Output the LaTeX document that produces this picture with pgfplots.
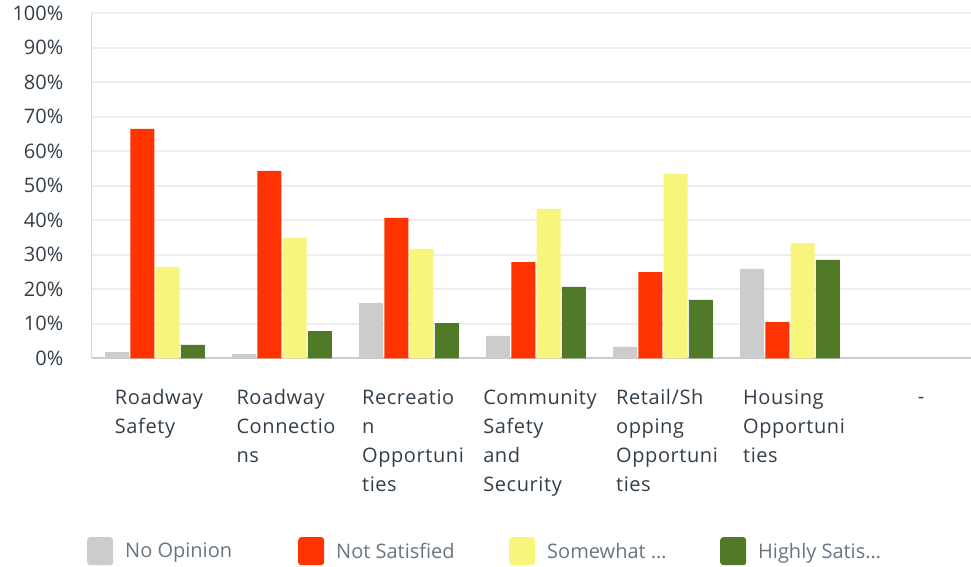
\documentclass[border=0pt]{standalone}
\usepackage{fontspec}
\setmainfont{Open Sans}
\newfontfamily\wide[LetterSpace=3]{Open Sans}
\usepackage{pgfplots}
\pgfplotsset{compat=1.18}

\definecolor{noop}{HTML}{CCCCCC}
\definecolor{notsat}{HTML}{FF3300}
\definecolor{somewhat}{HTML}{F7F57C}
\definecolor{highly}{HTML}{507A28}
\definecolor{gridc}{HTML}{EEEEEE}
\definecolor{labc}{HTML}{333E48}
\definecolor{legc}{HTML}{6A7580}

\begin{document}
\begin{tikzpicture}
  \begin{axis}[
    at={(91.5bp,208.7bp)}, anchor=south west,
    scale only axis,
    width=879.5bp, height=345bp,
    xmin=-0.5, xmax=6.425,
    ymin=0, ymax=100,
    ybar=1.3bp, bar width=24bp,
    axis x line=bottom, axis y line=left,
    x axis line style={draw=noop, line width=2bp, -},
    y axis line style={draw=gridc!80!gray, line width=1bp, -},
    major tick length=0pt,
    ymajorgrids,
    major grid style={draw=gridc, line width=2bp},
    ytick={0,10,...,100},
    yticklabels={0\%,10\%,20\%,30\%,40\%,50\%,60\%,70\%,80\%,90\%,100\%},
    yticklabel style={anchor=east, inner sep=0pt, xshift=-28bp, text=labc,
      font=\fontsize{20bp}{24bp}\selectfont},
    xtick={0,...,6},
    xticklabels={{Roadway\\Safety},{Roadway\\Connectio\\ns},{Recreatio\\n\\Opportuni\\ties},
      {Community\\Safety\\and\\Security},{Retail/Sh\\opping\\Opportuni\\ties},
      {Housing\\Opportuni\\ties},{\vphantom{R}-}},
    xticklabel style={anchor=north, align=left, inner sep=0pt, yshift=-31bp, xshift=4bp,
      text=labc, font=\wide\fontsize{20bp}{29bp}\selectfont},
    every axis plot post/.append style={
      legend image code/.code={
        \path[##1, draw=none, rounded corners=3bp] (0bp,-14bp) rectangle (26bp,14bp);
        \path (38bp,0bp);}},
    legend columns=4,
    legend style={at={(0,0)}, anchor=north west, xshift=-4.5bp, yshift=-178.7bp,
      draw=none, fill=none, inner sep=0pt, text=legc,
      font=\fontsize{20bp}{24bp}\selectfont,
      nodes={inner sep=0pt},
      cells={anchor=west},
      /tikz/every even column/.append style={column sep=0bp}},
  ]
    \addplot[fill=noop, draw=none] coordinates {
      (0,1.8) (1,1.2) (2,16.0) (3,6.5) (4,3.3) (5,25.9)};
    \addlegendentry{\makebox[173bp][l]{No Opinion}}
    \addplot[fill=notsat, draw=none] coordinates {
      (0,66.5) (1,54.3) (2,40.7) (3,27.9) (4,25.0) (5,10.5)};
    \addlegendentry{\makebox[173bp][l]{Not Satisfied}}
    \addplot[fill=somewhat, draw=none] coordinates {
      (0,26.5) (1,34.9) (2,31.7) (3,43.3) (4,53.4) (5,33.4)};
    \addlegendentry{\makebox[173bp][l]{Somewhat \dots}}
    \addplot[fill=highly, draw=none] coordinates {
      (0,3.9) (1,7.9) (2,10.2) (3,20.7) (4,16.9) (5,28.5)};
    \addlegendentry{\makebox[173bp][l]{Highly Satis\dots}}
  \end{axis}
  \pgfresetboundingbox
  \useasboundingbox (0,0) rectangle (971bp,567bp);
\end{tikzpicture}
\end{document}
